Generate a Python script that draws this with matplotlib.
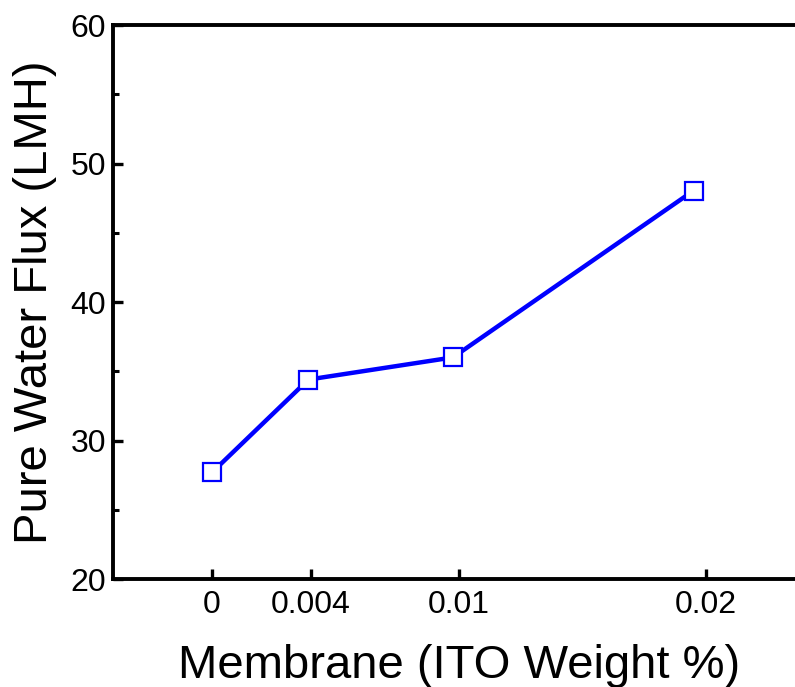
import matplotlib
matplotlib.use('Agg')
from matplotlib import pyplot as plt
from matplotlib.ticker import MultipleLocator

plt.rcParams['font.family'] = ['Liberation Sans', 'DejaVu Sans']

ito_weight = [0, 0.0039, 0.00975, 0.0195]
water_flux = [27.7, 34.4, 36.0, 48.05]
x_ticks = [0, 0.004, 0.01, 0.02]
x_tick_labels = ['0', '0.004', '0.01', '0.02']
y_ticks = [20, 30, 40, 50, 60]

fig = plt.figure(figsize=(7.95, 6.87), dpi=100)
ax = fig.add_axes([0.1425, 0.1572, 0.87, 0.8064])

ax.plot(ito_weight, water_flux, color='#0000ff', linewidth=3.2, marker='s',
        markersize=13, markerfacecolor='white', markeredgecolor='#0000ff',
        markeredgewidth=1.6, zorder=3)

ax.set_xlim(-0.004, 0.024)
ax.set_ylim(20, 60)
ax.set_xticks(x_ticks)
ax.set_xticklabels(x_tick_labels)
ax.set_yticks(y_ticks)
ax.yaxis.set_minor_locator(MultipleLocator(5))

for s in ['left', 'bottom', 'top', 'right']:
    ax.spines[s].set_linewidth(2.8)

ax.tick_params(axis='both', which='major', direction='in', length=7, width=2.4,
               labelsize=23)
ax.tick_params(axis='y', which='major', pad=5)
ax.tick_params(axis='x', which='major', pad=8)
ax.tick_params(axis='y', which='minor', direction='in', length=4, width=2.2)

ax.set_xlabel('Membrane (ITO Weight %)', fontsize=34, labelpad=17)
ax.set_ylabel('Pure Water Flux (LMH)', fontsize=34, labelpad=10)

fig.savefig('out.png', dpi=100)
